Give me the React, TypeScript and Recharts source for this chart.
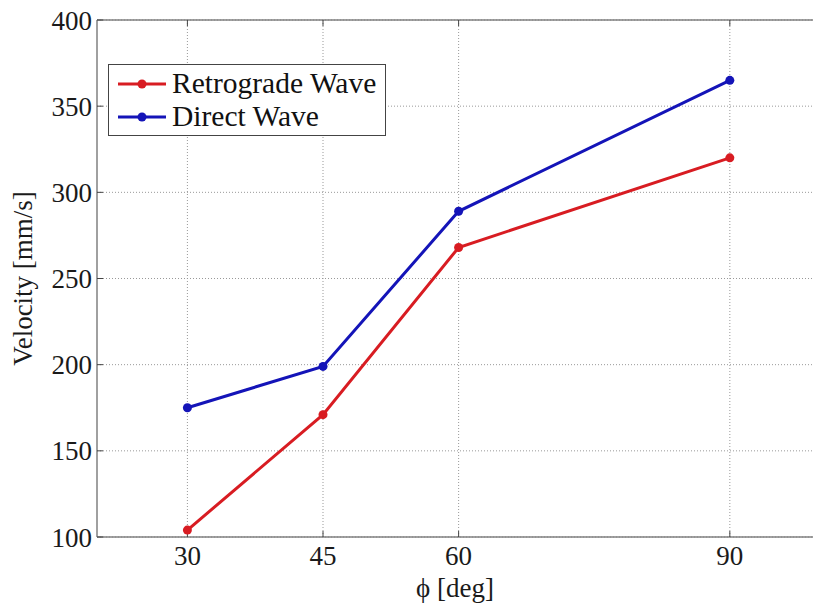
import React from 'react';
import { LineChart, Line, XAxis, YAxis, CartesianGrid, Legend, Label } from 'recharts';

const phi = [30, 45, 60, 90];
const retrograde = [104, 171, 268, 320];
const direct = [175, 199, 289, 365];
const xTicks = [30, 45, 60, 90];
const yTicks = [100, 150, 200, 250, 300, 350, 400];
const xDomain = [20, 99.2];
const yDomain = [100, 400];
const seriesNames = ['Retrograde Wave', 'Direct Wave'];

const data = phi.map((p, i) => ({ phi: p, retrograde: retrograde[i], direct: direct[i] }));

const FONT = "'Liberation Serif', 'Times New Roman', serif";
const RED = '#d81c22';
const BLUE = '#1414b8';
const AXIS = '#808080';

const renderLegend = (props: any) => {
  const payload = [...(props.payload || [])].sort(
    (a: any, b: any) => seriesNames.indexOf(a.value) - seriesNames.indexOf(b.value)
  );
  return (
    <div
      style={{
        border: '1px solid #444',
        background: '#fff',
        padding: '2px 6px 2px 9px',
        fontFamily: FONT,
        fontSize: 29.5,
        color: '#111',
        width: 261,
      }}
    >
      {payload.map((entry: any) => (
        <div key={entry.value} style={{ display: 'flex', alignItems: 'center', height: 33 }}>
          <svg width={48} height={12} style={{ marginRight: 6, flex: 'none' }}>
            <line x1={0} y1={6} x2={48} y2={6} stroke={entry.color} strokeWidth={3} />
            <circle cx={24} cy={6} r={4.5} fill={entry.color} />
          </svg>
          <span style={{ lineHeight: '33px', whiteSpace: 'nowrap' }}>{entry.value}</span>
        </div>
      ))}
    </div>
  );
};

export default function App() {
  return (
    <div
      style={{
        position: 'fixed',
        left: 0,
        top: 0,
        width: 813,
        height: 608,
        overflow: 'hidden',
        background: '#fff',
      }}
    >
      <LineChart width={813} height={608} data={data} margin={{ top: 10, right: 0, bottom: 8, left: 8 }}>
        <CartesianGrid stroke="#999" strokeDasharray="1 2" strokeWidth={1} syncWithTicks />
        <XAxis
          dataKey="phi"
          type="number"
          domain={xDomain}
          ticks={xTicks}
          height={63}
          tickSize={-6}
          tickMargin={15}
          axisLine={{ stroke: AXIS, strokeWidth: 1.5 }}
          tickLine={{ stroke: '#444' }}
          tick={{ fontFamily: FONT, fontSize: 27, fill: '#1a1a1a' }}
          interval={0}
          allowDataOverflow
        >
          <Label
            value="ϕ [deg]"
            position="insideBottom"
            offset={3}
            style={{ fontFamily: FONT, fontSize: 27, fill: '#1a1a1a' }}
          />
        </XAxis>
        <XAxis
          xAxisId="top"
          orientation="top"
          dataKey="phi"
          type="number"
          domain={xDomain}
          ticks={xTicks}
          height={10}
          tickSize={-6}
          tickFormatter={() => ''}
          axisLine={{ stroke: AXIS, strokeWidth: 1.5 }}
          tickLine={{ stroke: '#444' }}
          interval={0}
          allowDataOverflow
        />
        <YAxis
          type="number"
          domain={yDomain}
          ticks={yTicks}
          width={89}
          tickSize={-6}
          tickMargin={11}
          axisLine={{ stroke: AXIS, strokeWidth: 1.5 }}
          tickLine={{ stroke: '#444' }}
          tick={{ fontFamily: FONT, fontSize: 27, fill: '#1a1a1a' }}
          interval={0}
        >
          <Label
            value="Velocity [mm/s]"
            angle={-90}
            position="insideLeft"
            offset={14}
            style={{ fontFamily: FONT, fontSize: 27, fill: '#1a1a1a', textAnchor: 'middle' }}
          />
        </YAxis>
        <Legend
          layout="vertical"
          align="center"
          verticalAlign="middle"
          wrapperStyle={{ left: 108, top: 64, width: 'auto' }}
          content={renderLegend}
        />
        <Line
          type="linear"
          dataKey="retrograde"
          name="Retrograde Wave"
          stroke={RED}
          strokeWidth={3}
          dot={{ r: 4.5, fill: RED, stroke: RED, strokeWidth: 0 }}
          activeDot={false}
          isAnimationActive={false}
        />
        <Line
          type="linear"
          dataKey="direct"
          name="Direct Wave"
          stroke={BLUE}
          strokeWidth={3}
          dot={{ r: 4.5, fill: BLUE, stroke: BLUE, strokeWidth: 0 }}
          activeDot={false}
          isAnimationActive={false}
        />
      </LineChart>
    </div>
  );
}
